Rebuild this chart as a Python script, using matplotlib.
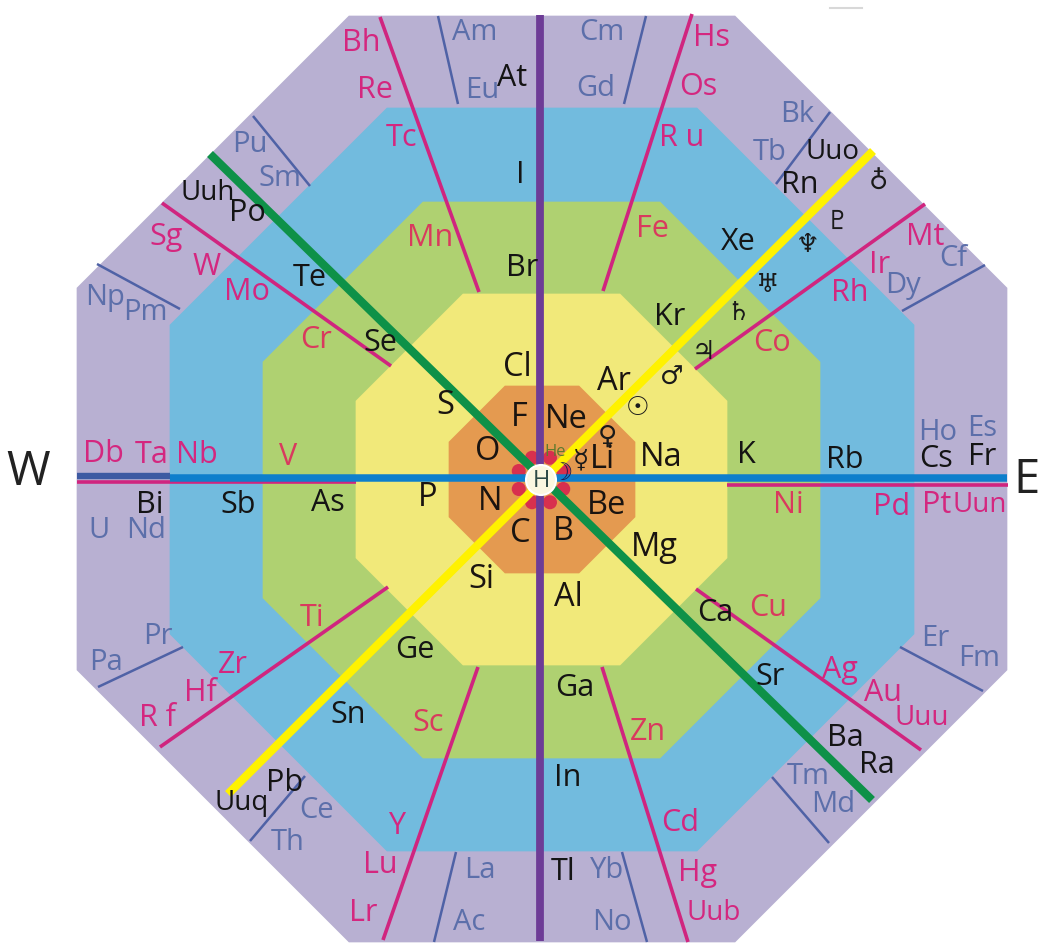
import math
import matplotlib
matplotlib.use("Agg")
import matplotlib.pyplot as plt
from matplotlib.patches import Polygon, Circle

W, H = 1041, 945
FONT = ["Open Sans", "DejaVu Sans"]

# octagon rings, outer to inner
ring_colors = ["#B8B0D2", "#72BBDE", "#AFD171", "#F1E97A", "#E49A50"]
ring_left = [77, 170, 263, 356, 449]
ring_right = [1007, 914, 820, 727, 635]
ring_top = [17, 109, 203, 295, 387]
ring_bottom = [943, 852, 759, 666, 574]
ring_cut = [272, 217, 160, 107, 56]

petal_colors = "#D8304E"
petal_angles = [22, 68, 112, 158, 202, 248, 292, 338]

magenta_lines = [((380, 18), (479, 293)), ((692, 15), (603, 292)),
                 ((925, 205), (695, 370)), ((388, 588), (160, 748)),
                 ((391, 367), (162, 204)), ((921, 751), (696, 590)),
                 ((478, 668), (383, 941)), ((602, 668), (688, 943)),
                 ((77, 483), (356, 483)), ((727, 486), (1008, 486))]
slate_lines = [((438, 17), (458, 105)), ((646, 17), (624, 105)),
               ((253, 117), (310, 187)), ((97, 265), (180, 310)),
               ((830, 113), (776, 185)), ((985, 266), (902, 312)),
               ((98, 688), (183, 648)), ((900, 648), (983, 692)),
               ((772, 778), (829, 844)), ((305, 777), (250, 842)),
               ((456, 853), (434, 943)), ((622, 853), (647, 943))]

inner_labels = {"Li": (602, 460), "Na": (661, 458), "Be": (607, 506), "B": (563, 531), "C": (520, 533),
                "N": (490, 502), "O": (488, 451), "F": (519, 417), "Ne": (566, 419), "Mg": (654, 547),
                "Al": (568, 597), "Si": (481, 580), "P": (428, 498), "S": (445, 405), "Cl": (517, 367),
                "Ar": (614, 381)}
black_labels = {"K": (746, 455), "Rb": (845, 460), "Cs": (936, 459), "Fr": (982, 457), "Kr": (670, 317),
                "Xe": (738, 242), "Rn": (800, 185), "Uuo": (833, 152), "Ca": (715, 613), "Sr": (770, 677),
                "Ba": (845, 738), "Ra": (877, 765), "Ga": (575, 688), "In": (568, 778), "Tl": (563, 872),
                "Ge": (415, 650), "Sn": (348, 715), "Pb": (285, 783), "Uuq": (242, 803), "As": (328, 503),
                "Sb": (238, 505), "Bi": (150, 505), "Te": (310, 278), "Se": (380, 343), "Po": (247, 213),
                "Uuh": (208, 193), "Br": (522, 268), "I": (520, 175), "At": (512, 78)}
magenta_labels = {"Bh": (361, 43), "Re": (375, 90), "Tc": (402, 138), "Hs": (711, 38), "Os": (698, 87),
                  "R u": (682, 138), "Rh": (850, 293), "Ir": (880, 265), "Mt": (925, 237), "Sg": (166, 237),
                  "W": (207, 267), "Mo": (247, 292), "Pd": (892, 507), "Pt": (937, 505), "Uun": (980, 505),
                  "Db": (103, 454), "Ta": (152, 455), "Nb": (197, 455), "Ag": (840, 670), "Au": (883, 693),
                  "Uuu": (922, 718), "Zr": (233, 665), "Hf": (200, 693), "R f": (157, 718), "Cd": (680, 823),
                  "Hg": (698, 873), "Uub": (714, 913), "Lu": (380, 865), "Lr": (363, 913), "Y": (397, 826)}
crimson_labels = {"Cr": (316, 340), "V": (288, 457), "Ti": (312, 618), "Cu": (768, 608), "Co": (772, 343),
                  "Ni": (788, 505), "Fe": (652, 229), "Mn": (430, 238), "Sc": (428, 723), "Zn": (648, 732)}
slate_labels = {"Am": (475, 33), "Eu": (482, 90), "Cm": (602, 33), "Gd": (596, 88), "Bk": (797, 115),
                "Tb": (770, 152), "Pu": (250, 145), "Sm": (280, 178), "Np": (105, 297), "Pm": (145, 313),
                "Cf": (953, 258), "Dy": (903, 285), "Ho": (938, 432), "Es": (982, 428), "Er": (935, 638),
                "Fm": (979, 658), "Tm": (808, 777), "Md": (833, 805), "Ce": (317, 810), "Th": (288, 842),
                "U": (99, 530), "Nd": (146, 530), "Pa": (106, 662), "Pr": (158, 637), "La": (480, 870),
                "Ac": (469, 922), "Yb": (607, 870), "No": (612, 922)}
planet_labels = {"☿": (581, 460), "♀": (607, 437), "☉": (638, 408), "♂": (672, 378), "♃": (703, 352),
                 "♄": (738, 313), "♅": (768, 285), "♆": (807, 245), "♇": (837, 222), "♁": (878, 182)}

fig = plt.figure(figsize=(W / 100, H / 100), dpi=100, facecolor="white")
ax = fig.add_axes([0, 0, 1, 1])
ax.set_xlim(0, W)
ax.set_ylim(H, 0)
ax.axis("off")

for l, r, t, b, c, col in zip(ring_left, ring_right, ring_top, ring_bottom, ring_cut, ring_colors):
    pts = [(l + c, t), (r - c, t), (r, t + c), (r, b - c), (r - c, b), (l + c, b), (l, b - c), (l, t + c)]
    ax.add_patch(Polygon(pts, closed=True, fc=col, ec=col, lw=0.5, zorder=1))

for seg in magenta_lines:
    ax.plot(*zip(*seg), color="#D0257F", lw=2.6, zorder=2, solid_capstyle="butt")
for seg in slate_lines:
    ax.plot(*zip(*seg), color="#4F62A6", lw=1.8, zorder=2, solid_capstyle="butt")

for a in petal_angles:
    ax.add_patch(Circle((541 + 24 * math.cos(math.radians(a)), 481 + 24 * math.sin(math.radians(a))), 7,
                        fc=petal_colors, ec="none", zorder=3))

ax.plot([540, 540], [16, 942], color="#6D3C96", lw=5.6, zorder=4, solid_capstyle="butt")
ax.plot([170, 1007], [479, 479], color="#0E7FCC", lw=5.4, zorder=4, solid_capstyle="butt")
ax.plot([77, 170], [477, 477], color="#3D5AA2", lw=4.6, zorder=4, solid_capstyle="butt")
ax.plot([210, 872], [155, 801], color="#0E9148", lw=6, zorder=5, solid_capstyle="butt")
ax.plot([228, 873], [795, 152], color="#FFF200", lw=6, zorder=5, solid_capstyle="butt")
ax.plot([830, 862], [9, 9], color="#D8D8D8", lw=1.5, zorder=1)

ax.add_patch(Circle((541, 481), 15, fc="#FBF7E0", ec="white", lw=1.5, zorder=6))
ax.text(541, 481, "H", fontsize=17, color="#2F4A46", ha="center", va="center", zorder=7, family=FONT)
ax.text(555, 452, "He", fontsize=12, color="#5E7A2E", ha="center", va="center", zorder=7, family=FONT)
ax.text(562, 473, "☽", fontsize=17, color="#1A1A50", ha="center", va="center", zorder=7, family="DejaVu Sans")


def draw(labels, color, size):
    for name, (x, y) in labels.items():
        s = 20 if name.startswith("Uu") else size
        ax.text(x, y, name, fontsize=s, color=color, ha="center", va="center", zorder=8, family=FONT)


draw(inner_labels, "#1A1410", 23.5)
draw(black_labels, "#141414", 22)
draw(magenta_labels, "#D4277F", 22)
draw(crimson_labels, "#D93A5E", 22)
draw(slate_labels, "#5C6FAA", 21)
for name, (x, y) in planet_labels.items():
    ax.text(x, y, name, fontsize=19, color="#1A1A1A", ha="center", va="center", zorder=8, family="DejaVu Sans")

ax.text(28, 472, "W", fontsize=34, color="#222222", ha="center", va="center", family=FONT)
ax.text(1027, 480, "E", fontsize=34, color="#222222", ha="center", va="center", family=FONT)

fig.savefig("out.png", dpi=100)
